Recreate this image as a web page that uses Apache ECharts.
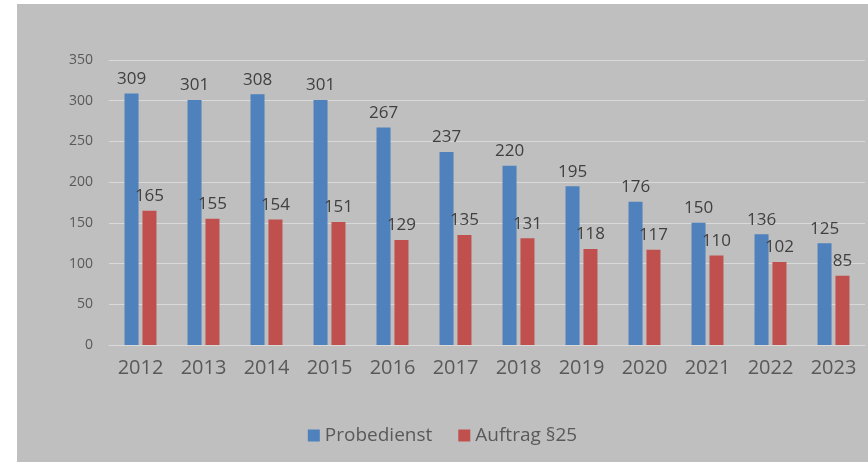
<!DOCTYPE html>
<html>
<head>
<meta charset="utf-8">
<script src="https://cdn.jsdelivr.net/npm/echarts@6/dist/echarts.min.js"></script>
<style>
  html, body { margin: 0; padding: 0; background: #fff; }
  #chart { position: absolute; left: 17px; top: 4px; width: 851px; height: 458px; }
</style>
</head>
<body>
<div id="chart"></div>
<script>
const years = ["2012", "2013", "2014", "2015", "2016", "2017", "2018", "2019", "2020", "2021", "2022", "2023"];
const probedienst = [309, 301, 308, 301, 267, 237, 220, 195, 176, 150, 136, 125];
const auftrag25 = [165, 155, 154, 151, 129, 135, 131, 118, 117, 110, 102, 85];

const font = "'Open Sans', 'Noto Sans', sans-serif";

const chart = echarts.init(document.getElementById("chart"));
chart.setOption({
  backgroundColor: "#bfbfbf",
  animation: false,
  textStyle: { fontFamily: font },
  grid: { left: 92, right: 3, top: 56, bottom: 117 },
  legend: {
    data: ["Probedienst", "Auftrag §25"],
    bottom: 12,
    left: "center",
    icon: "rect",
    itemWidth: 12,
    itemHeight: 12,
    itemGap: 26,
    textStyle: { fontSize: 19, color: "#595959", fontFamily: font },
  },
  xAxis: {
    type: "category",
    data: years,
    axisTick: { show: false },
    axisLine: { lineStyle: { color: "#d9d9d9", width: 1 } },
    axisLabel: { fontSize: 20, color: "#595959", margin: 13 },
  },
  yAxis: {
    type: "value",
    min: 0,
    max: 350,
    interval: 50,
    axisLine: { show: false },
    axisTick: { show: false },
    splitLine: { lineStyle: { color: "#d9d9d9", width: 1 } },
    axisLabel: { fontSize: 14, color: "#595959", margin: 16 },
  },
  series: [
    {
      name: "Probedienst",
      type: "bar",
      data: probedienst,
      barWidth: 14,
      barGap: "28%",
      itemStyle: { color: "#4f81bd" },
      label: { show: true, position: "top", distance: 6, fontSize: 17, color: "#404040" },
    },
    {
      name: "Auftrag §25",
      type: "bar",
      data: auftrag25,
      barWidth: 14,
      itemStyle: { color: "#c0504d" },
      label: { show: true, position: "top", distance: 6, fontSize: 17, color: "#404040" },
    },
  ],
});
</script>
</body>
</html>
